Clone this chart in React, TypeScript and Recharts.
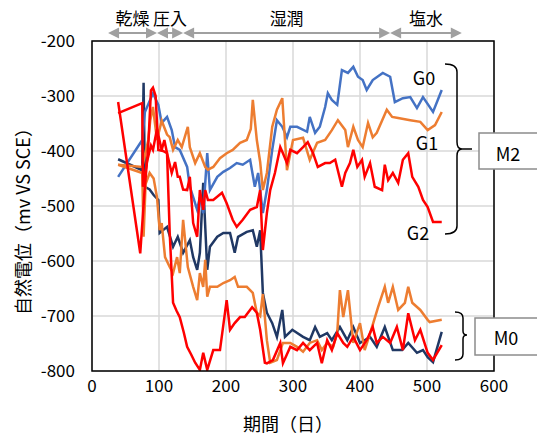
import React from "react";
import { LineChart, Line, XAxis, YAxis, CartesianGrid } from "recharts";

// [day, mV vs SCE]
const g0: [number, number][] = [
  [39, -447], [75, -380], [79, -329], [91, -295], [99, -316], [104, -349], [112, -338],
  [119, -362], [124, -393], [131, -398], [142, -429], [146, -465], [151, -484], [157, -507],
  [161, -484], [166, -513], [172, -404], [176, -471], [187, -447], [196, -438], [206, -431],
  [216, -422], [225, -425], [236, -416], [243, -465], [248, -440], [255, -513], [261, -471],
  [269, -398], [276, -344], [284, -356], [291, -375], [296, -356], [306, -356], [321, -365],
  [325, -338], [333, -367], [340, -356], [348, -320], [352, -295], [358, -307], [366, -316],
  [373, -253], [382, -258], [390, -247], [397, -265], [404, -271], [410, -289], [419, -271],
  [434, -258], [445, -265], [452, -311], [464, -304], [475, -302], [485, -322], [494, -302],
  [509, -329], [522, -289],
];

const g1: [number, number][] = [
  [39, -425], [75, -429], [84, -380], [87, -344], [91, -320], [97, -380], [104, -345],
  [112, -370], [116, -375], [121, -398], [128, -380], [134, -393], [143, -356], [146, -393],
  [154, -422], [161, -404], [169, -429], [173, -434], [181, -429], [191, -413], [201, -404],
  [210, -398], [221, -385], [231, -380], [237, -360], [240, -307], [246, -380], [251, -420],
  [255, -471], [261, -440], [269, -356], [276, -325], [284, -304], [288, -380], [291, -435],
  [300, -380], [315, -376], [325, -416], [336, -385], [348, -380], [358, -362], [367, -344],
  [378, -362], [382, -393], [390, -356], [397, -380], [404, -393], [412, -349], [419, -375],
  [425, -367], [440, -325], [448, -338], [457, -340], [475, -344], [490, -347], [501, -362],
  [512, -353], [522, -329],
];

const g2: [number, number][] = [
  [39, -331], [75, -313], [76, -465], [82, -420], [88, -390], [91, -398], [97, -360],
  [104, -398], [108, -380], [112, -404], [119, -440], [124, -420], [128, -447], [131, -447],
  [136, -470], [142, -471], [146, -447], [151, -531], [157, -556], [161, -471], [166, -507],
  [169, -471], [173, -489], [181, -489], [194, -476], [201, -495], [210, -525], [216, -538],
  [225, -525], [236, -507], [246, -502], [251, -471], [255, -580], [261, -513], [266, -471],
  [273, -440], [281, -393], [285, -404], [291, -422], [296, -398], [306, -404], [315, -393],
  [322, -384], [330, -404], [337, -429], [348, -422], [355, -422], [363, -416], [373, -465],
  [378, -440], [385, -422], [390, -398], [396, -429], [403, -416], [407, -447], [415, -422],
  [422, -465], [433, -471], [437, -425], [442, -453], [449, -440], [457, -458], [464, -416],
  [472, -404], [478, -447], [487, -465], [494, -489], [501, -502], [509, -529], [522, -529],
];

const m0Navy: [number, number][] = [
  [39, -415], [75, -435], [77, -276], [79, -465], [86, -470], [92, -480], [99, -489],
  [101, -549], [112, -538], [121, -574], [128, -556], [136, -585], [146, -562], [151, -593],
  [157, -616], [161, -585], [166, -458], [172, -616], [176, -574], [187, -556], [196, -549],
  [206, -549], [213, -585], [218, -556], [231, -547], [240, -544], [246, -574], [251, -544],
  [255, -658], [261, -694], [269, -713], [276, -738], [284, -689], [288, -738], [299, -725],
  [315, -738], [325, -744], [333, -720], [340, -738], [351, -731], [358, -744], [370, -720],
  [381, -744], [390, -720], [400, -749], [415, -738], [425, -756], [437, -720], [449, -762],
  [463, -762], [472, -749], [485, -767], [494, -762], [501, -775], [509, -784], [522, -729],
];

const m0Orange: [number, number][] = [
  [39, -425], [75, -440], [77, -556], [80, -460], [86, -440], [92, -450], [97, -484],
  [101, -544], [104, -531], [109, -593], [116, -611], [121, -622], [127, -593], [131, -622],
  [136, -525], [143, -611], [151, -647], [157, -671], [161, -622], [166, -647], [169, -598],
  [172, -665], [176, -647], [187, -647], [196, -640], [206, -635], [213, -629], [218, -647],
  [231, -647], [240, -658], [246, -694], [251, -700], [255, -660], [261, -744], [266, -785],
  [276, -780], [285, -749], [296, -749], [306, -756], [315, -765], [325, -749], [336, -744],
  [343, -762], [351, -749], [360, -756], [366, -731], [370, -653], [375, -702], [382, -653],
  [390, -749], [400, -713], [407, -762], [418, -720], [427, -684], [437, -647], [442, -676],
  [449, -647], [457, -689], [467, -676], [472, -647], [478, -676], [490, -689], [501, -707],
  [504, -711], [522, -707],
];

const m0Red: [number, number][] = [
  [39, -311], [72, -586], [78, -480], [84, -390], [88, -290], [91, -285], [95, -300],
  [99, -398], [106, -400], [112, -404], [116, -549], [121, -676], [126, -690], [131, -702],
  [137, -730], [142, -756], [148, -770], [154, -785], [161, -798], [166, -767], [172, -798],
  [181, -762], [191, -762], [201, -671], [206, -725], [213, -713], [221, -702], [228, -702],
  [239, -684], [246, -694], [251, -725], [258, -785], [261, -786], [270, -780], [281, -749],
  [285, -786], [296, -756], [306, -762], [315, -749], [325, -762], [336, -749], [343, -786],
  [351, -744], [358, -762], [366, -731], [375, -749], [381, -756], [390, -738], [400, -762],
  [410, -744], [419, -720], [425, -749], [434, -738], [445, -749], [455, -720], [464, -762],
  [472, -695], [482, -744], [490, -725], [501, -767], [509, -780], [522, -753],
];

const dayTicks = [0, 100, 200, 300, 400, 500, 600];
const potTicks = [-800, -700, -600, -500, -400, -300, -200];

// phase boundaries in days: 乾燥 | 圧入 | 湿潤 | 塩水
const phaseNames = ["乾燥", "圧入", "湿潤", "塩水"];
const phaseBounds = [24, 97, 136, 445, 552];

const W = 537;
const H = 439;
const PL = 92;
const PT = 41;
const PR = 494;
const PB = 371;
const FONT = "'Noto Sans CJK JP', 'Noto Sans', sans-serif";

const pts = (a: [number, number][]) => a.map(([x, y]) => ({ x, y }));
const dayPx = (d: number) => PL + (d / 600) * (PR - PL);

function Head({ tip, dir }: { tip: number; dir: number }) {
  const y = 33;
  const b = tip - dir * 11;
  return <polygon points={`${tip},${y} ${b},${y - 5.5} ${b},${y + 5.5}`} fill="#a0a0a0" />;
}

function PhaseArrows() {
  const out: React.ReactNode[] = [];
  phaseNames.forEach((name, i) => {
    const a = dayPx(phaseBounds[i]);
    const b = dayPx(phaseBounds[i + 1]);
    out.push(
      <g key={name}>
        <line x1={a + 10} x2={b - 10} y1={33} y2={33} stroke="#a0a0a0" strokeWidth={2} />
        <Head tip={a} dir={-1} />
        <Head tip={b} dir={1} />
        <text x={(a + b) / 2} y={25} textAnchor="middle" fontSize={17} fill="#000">
          {name}
        </text>
      </g>
    );
  });
  return <g>{out}</g>;
}

const series = [
  { key: "m0Navy", data: m0Navy, color: "#203864" },
  { key: "g0", data: g0, color: "#4472C4" },
  { key: "m0Orange", data: m0Orange, color: "#ED7D31" },
  { key: "g1", data: g1, color: "#ED7D31" },
  { key: "m0Red", data: m0Red, color: "#FF0000" },
  { key: "g2", data: g2, color: "#FF0000" },
];

export default function App() {
  return (
    <div style={{ position: "absolute", left: 0, top: 0, width: W, height: H, background: "#fff", fontFamily: FONT }}>
      <LineChart width={W} height={H} margin={{ top: PT, right: W - PR, left: 0, bottom: 0 }}>
        <CartesianGrid stroke="#d9d9d9" strokeWidth={1.5} />
        <XAxis
          type="number"
          dataKey="x"
          domain={[0, 600]}
          ticks={dayTicks}
          height={H - PB}
          axisLine={false}
          tickLine={false}
          tickMargin={3}
          tick={{ fontSize: 17, fill: "#000", fontFamily: FONT }}
          allowDataOverflow
        />
        <YAxis
          type="number"
          dataKey="y"
          domain={[-800, -200]}
          ticks={potTicks}
          width={PL}
          axisLine={false}
          tickLine={false}
          tickMargin={11}
          tick={{ fontSize: 17, fill: "#000", fontFamily: FONT }}
          allowDataOverflow
        />
        {series.map((s) => (
          <Line
            key={s.key}
            data={pts(s.data)}
            dataKey="y"
            type="linear"
            stroke={s.color}
            strokeWidth={2.5}
            dot={false}
            activeDot={false}
            isAnimationActive={false}
          />
        ))}
      </LineChart>
      <svg
        width={W}
        height={H}
        style={{ position: "absolute", left: 0, top: 0, pointerEvents: "none", fontFamily: FONT }}
      >
        <rect x={PL} y={PT} width={PR - PL} height={PB - PT} fill="none" stroke="#000" strokeWidth={1.5} />
        <PhaseArrows />
        <text x={424} y={85} textAnchor="middle" fontSize={18}>G0</text>
        <text x={427} y={150} textAnchor="middle" fontSize={18}>G1</text>
        <text x={418} y={240} textAnchor="middle" fontSize={18}>G2</text>
        {/* M2 brace */}
        <path
          d="M445 64 Q457 64 457 72 L457 142 Q457 149 462 149 Q457 149 457 156 L457 226 Q457 234 445 234"
          fill="none"
          stroke="#000"
          strokeWidth={1.5}
        />
        <line x1={462} x2={472} y1={149} y2={149} stroke="#000" strokeWidth={1.5} />
        <rect x={479} y={133} width={62} height={36} fill="#fff" stroke="#8c8c8c" strokeWidth={1.5} />
        <text x={508} y={161} textAnchor="middle" fontSize={18}>M2</text>
        {/* M0 brace */}
        <path
          d="M455 312 Q463 312 463 318 L463 331 Q463 335 467 335 Q463 335 463 339 L463 354 Q463 360 455 360"
          fill="none"
          stroke="#000"
          strokeWidth={1.5}
        />
        <rect x={475} y={318} width={66} height={37} fill="#fff" stroke="#8c8c8c" strokeWidth={1.5} />
        <text x={506} y={345} textAnchor="middle" fontSize={18}>M0</text>
        {/* axis titles */}
        <text x={22} y={217} transform="rotate(-90 22 217)" textAnchor="middle" dominantBaseline="central" fontSize={18}>
          自然電位（mv VS SCE）
        </text>
        <text x={288} y={431} textAnchor="middle" fontSize={18}>期間（日）</text>
      </svg>
    </div>
  );
}
